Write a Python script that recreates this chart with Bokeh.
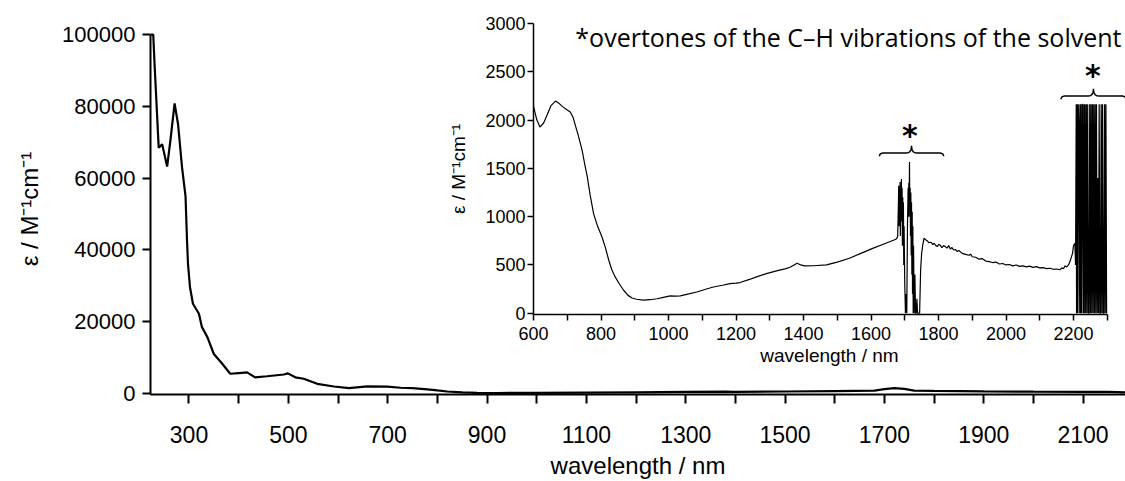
import numpy as np
from bokeh.plotting import figure
from bokeh.models import GridBox, FixedTicker, Label, Range1d, NumeralTickFormatter
from bokeh.embed import file_html
from bokeh.resources import INLINE
from bokeh.core.properties import value

# ---------------- main spectrum (wavelength / nm, epsilon / M^-1 cm^-1) ----------------
main_wl = [222.5, 228, 231, 239, 246, 256, 263, 271, 278, 286, 293, 296, 298, 302, 308,
           320, 326, 337, 350, 367, 383, 400, 417, 433, 457, 491, 499, 514, 531, 558,
           592, 622, 659, 699, 726, 750, 780, 800, 820, 850, 880, 920, 1000, 1100, 1200,
           1300, 1380, 1400, 1500, 1600, 1680, 1700, 1720, 1740, 1760, 1800, 1900, 2000,
           2100, 2150, 2170, 2185]
main_eps = [100000, 100000, 90800, 68500, 69400, 63200, 71000, 80800, 75000, 63000, 55000,
            42600, 36100, 29600, 25000, 22200, 18500, 15700, 11000, 8300, 5500, 5700, 5900,
            4500, 4800, 5300, 5600, 4500, 4100, 2700, 1950, 1500, 2000, 1900, 1600, 1500,
            1150, 850, 560, 300, 180, 140, 175, 235, 320, 430, 510, 470, 560, 680, 800,
            1200, 1500, 1300, 800, 720, 600, 500, 460, 450, 400, 300]

main_xticks = [300, 500, 700, 900, 1100, 1300, 1500, 1700, 1900, 2100]
main_xminor = [400, 600, 800, 1000, 1200, 1400, 1600, 1800, 2000]
main_yticks = [0, 20000, 40000, 60000, 80000, 100000]

# ---------------- inset NIR spectrum ----------------
nir_wl_a = [600, 610, 619, 630, 640, 652, 665, 675, 685, 700, 709, 717, 724, 732, 739, 744,
            752, 759, 768, 778, 790, 803, 813, 823, 832, 842, 855, 867, 880, 892, 905, 926,
            945, 966, 985, 1005, 1020, 1035, 1060, 1084, 1110, 1133, 1160, 1182, 1200, 1212,
            1240, 1261, 1290, 1320, 1345, 1360, 1372, 1381, 1392, 1403, 1430, 1468, 1500,
            1536, 1570, 1605, 1640, 1674, 1679]
nir_eps_a = [2142, 2000, 1928, 1970, 2049, 2150, 2197, 2175, 2142, 2105, 2083, 2030, 1946,
             1850, 1756, 1687, 1540, 1420, 1220, 1032, 900, 790, 680, 549, 450, 376, 300,
             238, 185, 158, 145, 135, 140, 150, 165, 179, 178, 180, 200, 220, 248, 272, 290,
             307, 312, 318, 350, 376, 410, 438, 460, 476, 500, 517, 500, 490, 492, 501, 530,
             569, 620, 672, 720, 766, 793]
# first overtone region (C-H of solvent)
nir_wl_b = [1681, 1682, 1683, 1684, 1685, 1686, 1687, 1688, 1689, 1690, 1691, 1692, 1693,
            1694, 1695, 1696, 1697, 1698, 1700, 1702, 1704, 1706, 1708, 1710, 1711, 1712,
            1713, 1714, 1715, 1716, 1717, 1718, 1719, 1720, 1721, 1722, 1723, 1724, 1725,
            1726, 1728, 1730, 1732, 1734, 1736, 1738, 1740, 1742, 1744, 1747, 1750, 1753]
nir_eps_b = [1100, 1320, 900, 1280, 1050, 1360, 800, 1250, 1000, 1390, 950, 1300, 700, 1200,
             900, 1150, 500, 900, 300, 0, 200, 0, 900, 1300, 1000, 1350, 1100, 1566, 1000,
             1300, 800, 1250, 600, 1150, 400, 1050, 200, 900, 0, 700, 0, 400, 0, 0, 150, 0,
             0, 0, 0, 450, 620, 700]
nir_wl_c = [1757, 1762, 1768, 1772, 1778, 1783, 1787, 1792, 1797, 1800, 1805, 1810, 1815,
            1820, 1825, 1830, 1835, 1840, 1845, 1850, 1855, 1860, 1870, 1880, 1890, 1895,
            1900, 1910, 1920, 1930, 1940, 1950, 1960, 1970, 1980, 1990, 2000, 2010, 2020,
            2030, 2040, 2050, 2060, 2070, 2080, 2090, 2100, 2110, 2120, 2130, 2140, 2150,
            2160, 2165, 2170, 2175, 2180, 2185, 2190, 2197, 2200, 2204]
nir_eps_c = [776, 760, 745, 730, 735, 710, 725, 700, 690, 715, 705, 680, 700, 690, 675, 700,
             665, 680, 655, 660, 640, 650, 620, 610, 600, 612, 585, 580, 560, 565, 540, 535,
             525, 530, 510, 515, 500, 505, 490, 500, 485, 490, 480, 488, 475, 482, 470, 472,
             462, 466, 455, 458, 450, 470, 460, 490, 480, 500, 540, 620, 700, 724]
# second overtone region (detector saturated)
nir_wl_d = [2206, 2208, 2209, 2211, 2212, 2214, 2216, 2217, 2219, 2221, 2222, 2224, 2226,
            2227, 2229, 2231, 2232, 2234, 2236, 2238, 2240, 2242, 2244, 2246, 2248, 2250,
            2252, 2254, 2256, 2258, 2260, 2262, 2264, 2266, 2268, 2270, 2272, 2274, 2276,
            2278, 2280, 2282, 2284, 2286, 2288, 2290, 2292, 2294, 2296, 2298]
nir_eps_d = [500, 2163, 0, 2163, 0, 2163, 1900, 0, 2163, 0, 2163, 0, 2163, 2163, 0, 2163, 0,
             2163, 0, 2163, 0, 2163, 0, 0, 2163, 0, 2163, 0, 2163, 0, 2163, 0, 2163, 0, 2163,
             0, 1400, 0, 2163, 0, 0, 2163, 0, 2163, 0, 0, 2163, 0, 2163, 0]

inset_xticks = [600, 800, 1000, 1200, 1400, 1600, 1800, 2000, 2200]
inset_xminor = [700, 900, 1100, 1300, 1500, 1700, 1900, 2100, 2300]
inset_yticks = [0, 500, 1000, 1500, 2000, 2500, 3000]

note_text = "*overtones of the C\u2013H vibrations of the solvent"
# braces over the solvent bands: (start, end, level) and the asterisks above them
brace_x0 = [1625, 2163]
brace_x1 = [1815, 2355]
brace_y = [1660, 2250]
star_x = [1715, 2257]
star_y = [1843, 2464]

TICK_FONT = "Liberation Sans"

# ---------------- main figure ----------------
p = figure(width=1125, height=481, x_range=Range1d(222.5, 2185.4), y_range=Range1d(-278, 103060),
           output_backend="svg", toolbar_location=None,
           min_border_left=150, min_border_right=0, min_border_top=23, min_border_bottom=87)
p.outline_line_color = None
p.grid.visible = False
p.line(main_wl, main_eps, line_width=2.2, color="black")

p.xaxis.ticker = FixedTicker(ticks=main_xticks, minor_ticks=main_xminor)
p.yaxis.ticker = FixedTicker(ticks=main_yticks, minor_ticks=[])
p.yaxis.formatter = NumeralTickFormatter(format="0")
p.yaxis.bounds = (-278, 100000)
for ax in (p.xaxis[0], p.yaxis[0]):
    ax.axis_line_width = 2
    ax.major_tick_line_width = 2
    ax.minor_tick_line_width = 2
    ax.major_tick_in = 0
    ax.minor_tick_in = 0
    ax.major_label_text_font = TICK_FONT
    ax.major_label_text_color = "black"
    ax.axis_label_text_font = TICK_FONT
    ax.axis_label_text_font_style = "normal"
    ax.axis_label_text_font_size = "24px"
    ax.axis_label_text_color = "black"
p.xaxis.major_label_text_font_size = "23px"
p.yaxis.major_label_text_font_size = "22px"
p.xaxis.major_tick_out = 9
p.xaxis.minor_tick_out = 9
p.yaxis.major_tick_out = 8
p.yaxis.minor_tick_out = 0
p.xaxis.major_label_standoff = 22
p.yaxis.major_label_standoff = 7
p.xaxis.axis_label = "wavelength / nm"
p.yaxis.axis_label = "\u03b5 / M\u207b\u00b9cm\u207b\u00b9"
p.xaxis.axis_label_standoff = 6
p.yaxis.axis_label_standoff = 16

# ---------------- inset figure ----------------
ins = figure(width=685, height=370, x_range=Range1d(600, 2354), y_range=Range1d(-13, 3000),
             output_backend="svg", toolbar_location=None,
             min_border_left=93, min_border_right=0, min_border_top=23, min_border_bottom=56)
ins.outline_line_color = None
ins.grid.visible = False
ins.background_fill_alpha = 0
ins.border_fill_alpha = 0

nir_wl = nir_wl_a + nir_wl_b + nir_wl_c + nir_wl_d
nir_eps = nir_eps_a + nir_eps_b + nir_eps_c + nir_eps_d
ins.line(nir_wl, nir_eps, line_width=1.2, color="black")

ins.xaxis.ticker = FixedTicker(ticks=inset_xticks, minor_ticks=inset_xminor)
ins.yaxis.ticker = FixedTicker(ticks=inset_yticks, minor_ticks=[])
ins.xaxis.bounds = (600, 2300)
for ax in (ins.xaxis[0], ins.yaxis[0]):
    ax.axis_line_width = 1.5
    ax.major_tick_line_width = 1.5
    ax.minor_tick_line_width = 1.5
    ax.major_tick_in = 0
    ax.minor_tick_in = 0
    ax.major_tick_out = 6
    ax.minor_tick_out = 6
    ax.major_label_text_font = TICK_FONT
    ax.major_label_text_font_size = "18px"
    ax.major_label_text_color = "black"
    ax.axis_label_text_font = TICK_FONT
    ax.axis_label_text_font_style = "normal"
    ax.axis_label_text_font_size = "19px"
    ax.axis_label_text_color = "black"
ins.yaxis.minor_tick_out = 0
ins.xaxis.major_label_standoff = 6
ins.yaxis.major_label_standoff = 2
ins.xaxis.axis_label = "wavelength / nm"
ins.yaxis.axis_label = "\u03b5 / M\u207b\u00b9cm\u207b\u00b9"
ins.xaxis.axis_label_standoff = 2
ins.yaxis.axis_label_standoff = 13


def brace(x0, x1, y, hook, cusp, r):
    xm = 0.5 * (x0 + x1)
    t = np.linspace(0, 1, 12)
    def quad(a, c, b):
        return ((1 - t) ** 2)[:, None] * np.array(a) + (2 * (1 - t) * t)[:, None] * np.array(c) + (t ** 2)[:, None] * np.array(b)
    segs = [quad((x0, y - hook), (x0, y), (x0 + r, y)),
            quad((xm - r, y), (xm, y), (xm, y + cusp)),
            quad((xm, y + cusp), (xm, y), (xm + r, y)),
            quad((x1 - r, y), (x1, y), (x1, y - hook))]
    pts = np.vstack(segs)
    return pts[:, 0], pts[:, 1]


for x0, x1, yb in zip(brace_x0, brace_x1, brace_y):
    bx, by = brace(x0, x1, yb, 35, 75, 15)
    ins.line(bx, by, line_width=1.5, color="black")

ins.text(x=star_x, y=star_y, text=["*", "*"], text_align="center", text_baseline="middle",
         text_font=value("DejaVu Sans"), text_font_style="bold", text_font_size="30px",
         text_color="black")

ins.add_layout(Label(x=724, y=2858, text=note_text, text_align="left", text_baseline="alphabetic",
                     text_font="Open Sans", text_font_size="25px", text_color="black"))

grid = GridBox(children=[(p, 0, 0, 2, 2), (ins, 0, 1, 1, 1)],
               rows=["370px", "111px"], cols=["440px", "685px"])

open("out.html", "w").write(file_html(grid, INLINE))
